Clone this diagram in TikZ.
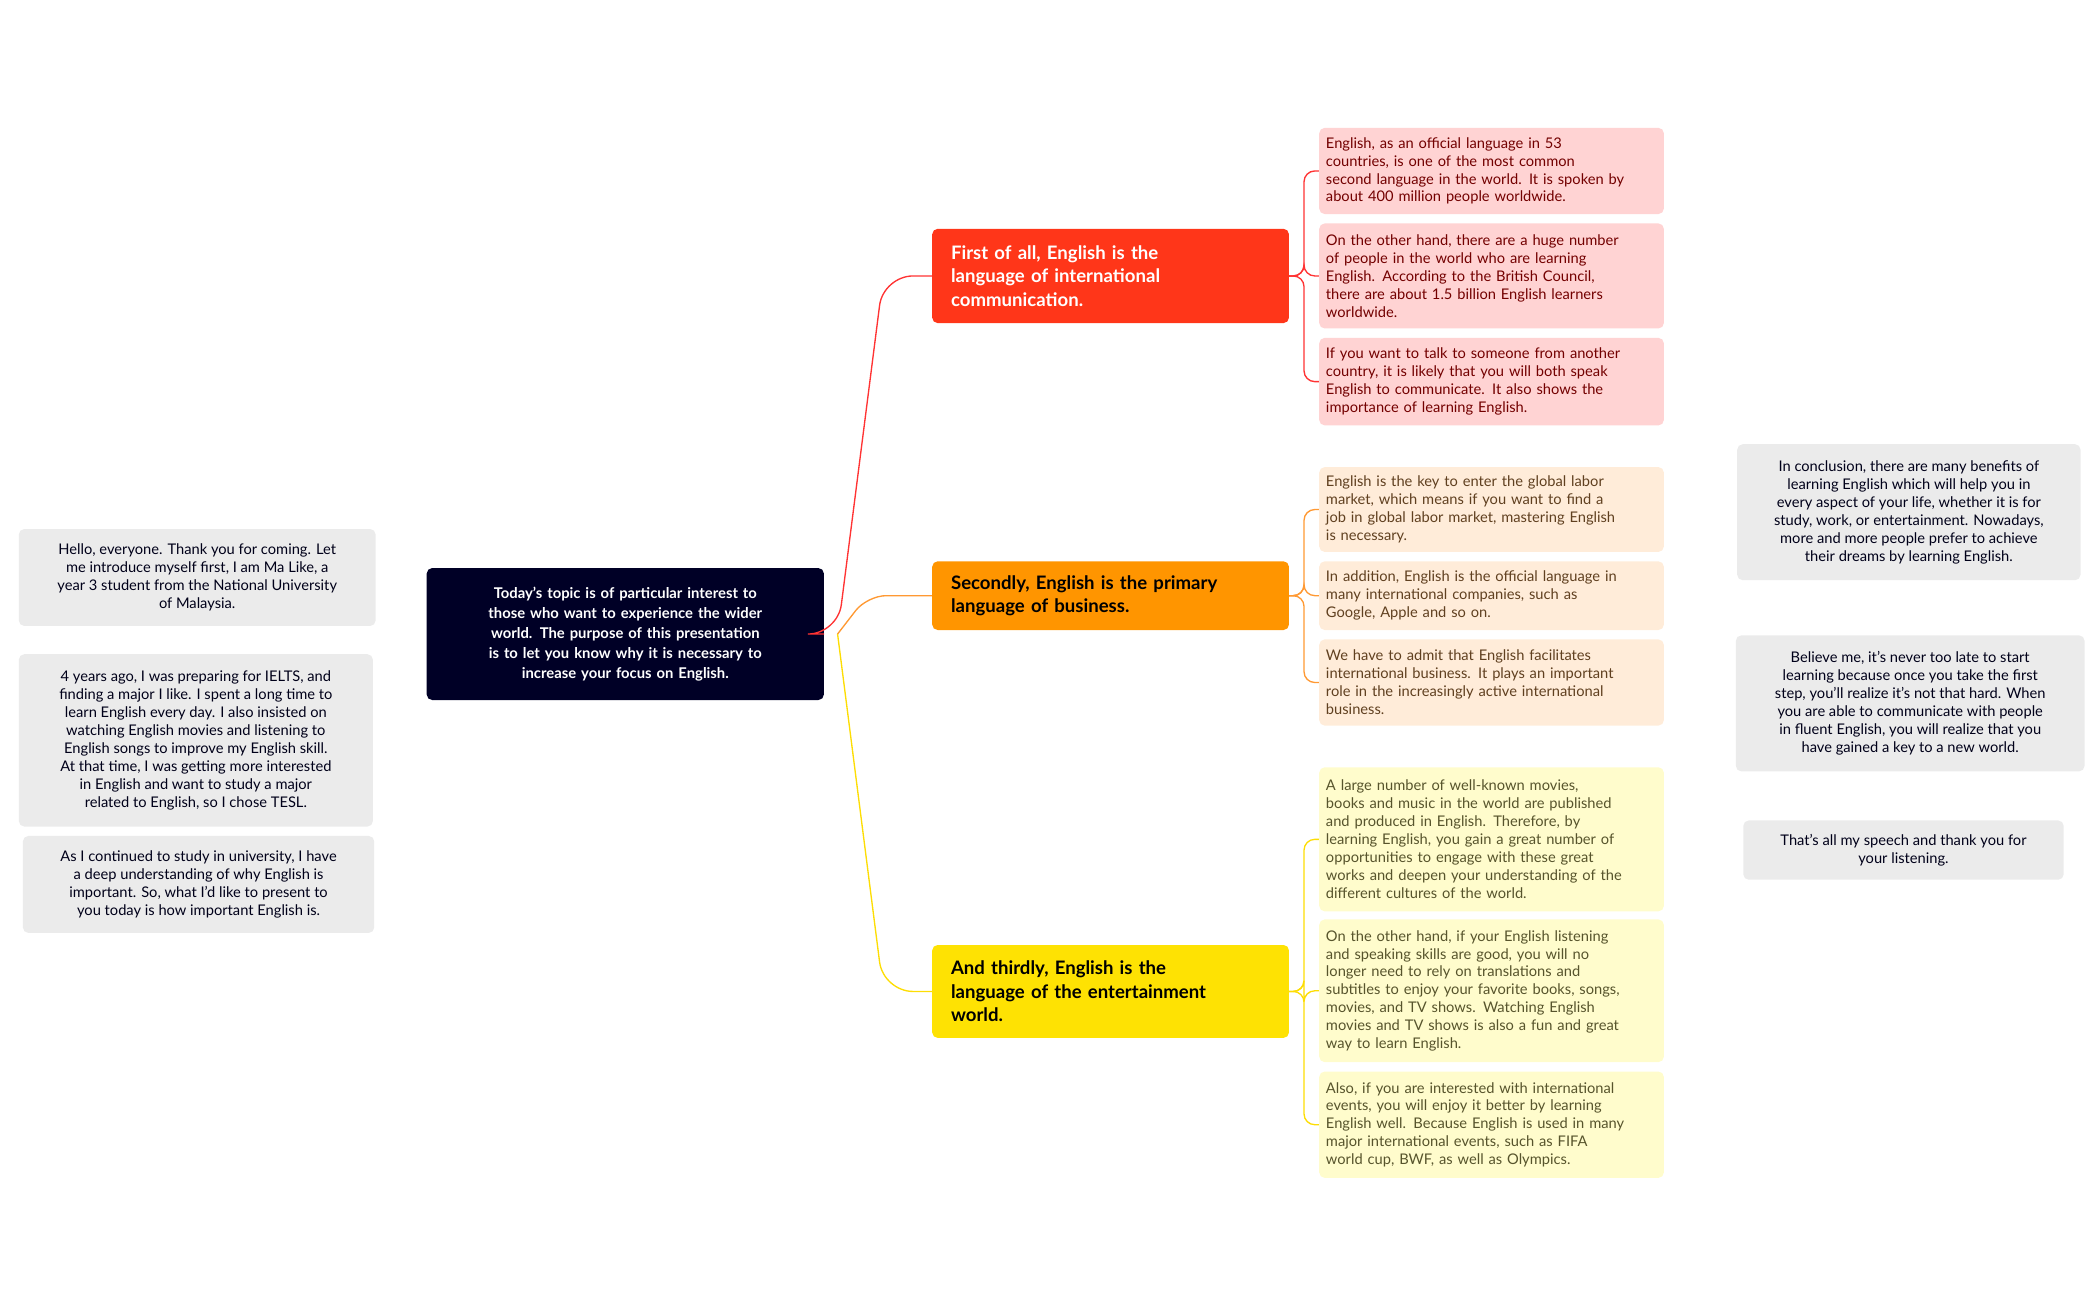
\documentclass[tikz,border=0pt]{standalone}
\usepackage{fontspec}
\setmainfont{Lato}
\begin{document}
\begin{tikzpicture}[x=1pt,y=-1pt,
 box/.style={rounded corners=4pt,inner xsep=5pt,inner ysep=3pt,font=\fontsize{10.9}{13.3}\selectfont},
 leafr/.style={box,fill=red!17!white!95!pink,text=red!45!black,align=left,text width=246pt},
 leafo/.style={box,fill=orange!15!white,text=brown!50!black,align=left,text width=246pt},
 leafy/.style={box,fill=yellow!20!white,text=olive!50!black,align=left,text width=246pt},
 gray/.style={box,fill=black!8,text=black!90!blue,align=center},
 branch/.style={rounded corners=4pt,inner xsep=14pt,align=left,text width=237pt,font=\fontsize{13.8}{17.3}\selectfont\bfseries},
 conn/.style={line width=1pt,rounded corners=8pt}]
\useasboundingbox (0,0) rectangle (1560,965);
\node[box,fill=black!85!blue,text=white,align=center,text width=285pt,minimum height=98pt,font=\fontsize{11}{15}\selectfont\bfseries] (c) at (464.5,471)
 {Today's topic is of particular interest to\\those who want to experience the wider\\world. The purpose of this presentation\\is to let you know why it is necessary to\\increase your focus on English.};
\node[branch,fill=red!75!orange!90!white,text=white,minimum height=70pt] (b1) at (825,205) {First of all, English is the\\language of international\\communication.};
\node[branch,fill=orange!70!yellow!90!red,text=black,minimum height=51pt] (b2) at (825,442.5) {Secondly, English is the primary\\language of business.};
\node[branch,fill=yellow!85!orange,text=black,minimum height=69pt] (b3) at (825,736.5) {And thirdly, English is the\\language of the entertainment\\world.};
\node[leafr,minimum height=64pt] (r1) at (1108,127) {English, as an official language in 53\\countries, is one of the most common\\second language in the world. It is spoken by\\about 400 million people worldwide.};
\node[leafr,minimum height=78pt] (r2) at (1108,205) {On the other hand, there are a huge number\\of people in the world who are learning\\English. According to the British Council,\\there are about 1.5 billion English learners\\worldwide.};
\node[leafr,minimum height=65pt] (r3) at (1108,283.5) {If you want to talk to someone from another\\country, it is likely that you will both speak\\English to communicate. It also shows the\\importance of learning English.};
\node[leafo,minimum height=63pt] (o1) at (1108,378.5) {English is the key to enter the global labor\\market, which means if you want to find a\\job in global labor market, mastering English\\is necessary.};
\node[leafo,minimum height=51pt] (o2) at (1108,442.5) {In addition, English is the official language in\\many international companies, such as\\Google, Apple and so on.};
\node[leafo,minimum height=64pt] (o3) at (1108,507) {We have to admit that English facilitates\\international business. It plays an important\\role in the increasingly active international\\business.};
\node[leafy,minimum height=107pt] (y1) at (1108,623.5) {A large number of well-known movies,\\books and music in the world are published\\and produced in English. Therefore, by\\learning English, you gain a great number of\\opportunities to engage with these great\\works and deepen your understanding of the\\different cultures of the world.};
\node[leafy,minimum height=106pt] (y2) at (1108,736) {On the other hand, if your English listening\\and speaking skills are good, you will no\\longer need to rely on translations and\\subtitles to enjoy your favorite books, songs,\\movies, and TV shows. Watching English\\movies and TV shows is also a fun and great\\way to learn English.};
\node[leafy,minimum height=79pt] (y3) at (1108,835.5) {Also, if you are interested with international\\events, you will enjoy it better by learning\\English well. Because English is used in many\\major international events, such as FIFA\\world cup, BWF, as well as Olympics.};
\node[gray,minimum width=265pt,minimum height=72pt] (l1) at (146.5,429) {Hello, everyone. Thank you for coming. Let\\me introduce myself first, I am Ma Like, a\\year 3 student from the National University\\of Malaysia.};
\node[gray,minimum width=263pt,minimum height=128pt] (l2) at (145.5,550) {4 years ago, I was preparing for IELTS, and\\finding a major I like. I spent a long time to\\learn English every day. I also insisted on\\watching English movies and listening to\\English songs to improve my English skill.\\At that time, I was getting more interested\\in English and want to study a major\\related to English, so I chose TESL.};
\node[gray,minimum width=261pt,minimum height=72pt] (l3) at (147.5,657) {As I continued to study in university, I have\\a deep understanding of why English is\\important. So, what I'd like to present to\\you today is how important English is.};
\node[gray,minimum width=255pt,minimum height=101pt] (g1) at (1418,380.5) {In conclusion, there are many benefits of\\learning English which will help you in\\every aspect of your life, whether it is for\\study, work, or entertainment. Nowadays,\\more and more people prefer to achieve\\their dreams by learning English.};
\node[gray,minimum width=259pt,minimum height=101pt] (g2) at (1419,522.5) {Believe me, it's never too late to start\\learning because once you take the first\\step, you'll realize it's not that hard. When\\you are able to communicate with people\\in fluent English, you will realize that you\\have gained a key to a new world.};
\node[gray,minimum width=238pt,minimum height=44pt] (g3) at (1414,631.5) {That's all my speech and thank you for\\your listening.};
\coordinate (cj) at ([xshift=10pt]c.east);
\draw[line width=1pt,red!80,rounded corners=22pt] (c.east) -- (cj) -- ([xshift=34pt]cj |- b1.west) -- (b1.west);
\draw[line width=1pt,orange!80,rounded corners=14pt] (cj) -- ([xshift=22pt]cj |- b2.west) -- (b2.west);
\draw[line width=1pt,yellow!80!orange,rounded corners=22pt] (cj) -- ([xshift=34pt]cj |- b3.west) -- (b3.west);
\foreach \b/\c/\l in {b1/red!80/r1,b1/red!80/r2,b1/red!80/r3,b2/orange!80/o1,b2/orange!80/o2,b2/orange!80/o3,b3/yellow!80!orange/y1,b3/yellow!80!orange/y2,b3/yellow!80!orange/y3}
 \draw[conn,\c] (\b.east) -- ([xshift=11pt]\b.east) |- (\l.west);
\end{tikzpicture}
\end{document}
